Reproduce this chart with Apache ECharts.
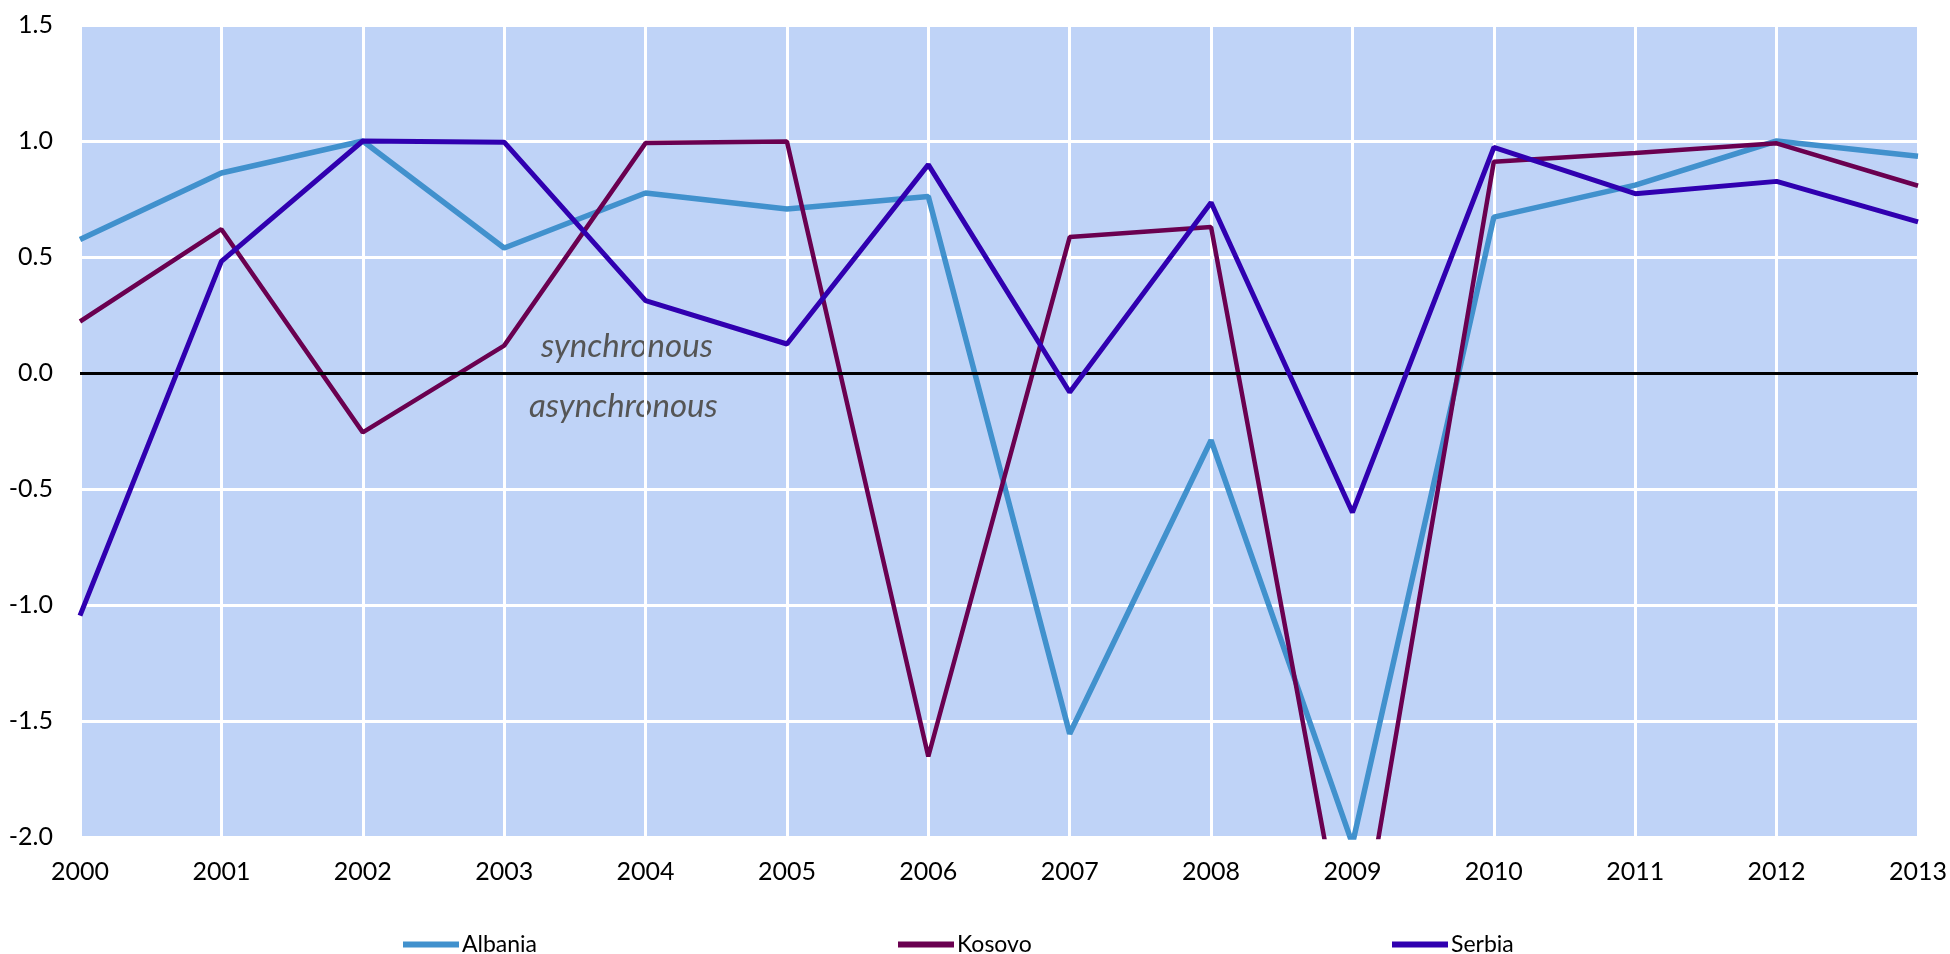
<!DOCTYPE html>
<html><head><meta charset="utf-8">
<script src="https://cdn.jsdelivr.net/npm/echarts@6/dist/echarts.min.js"></script>
<style>html,body{margin:0;padding:0;background:#fff;}#c{width:1950px;height:954px;}</style>
</head><body><div id="c"></div>
<script>
const years = ['2000','2001','2002','2003','2004','2005','2006','2007','2008','2009','2010','2011','2012','2013'];
const albania = [0.575, 0.862, 1.0, 0.539, 0.776, 0.707, 0.761, -1.555, -0.29, -2.03, 0.672, 0.81, 1.0, 0.934];
const kosovo  = [0.222, 0.62, -0.256, 0.118, 0.991, 0.998, -1.653, 0.586, 0.629, -2.66, 0.911, 0.948, 0.99, 0.807];
const serbia  = [-1.046, 0.481, 1.0, 0.995, 0.312, 0.125, 0.898, -0.083, 0.735, -0.601, 0.972, 0.773, 0.826, 0.651];
const names = ['Albania','Kosovo','Serbia'];
const colors = ['#4191CD','#6A0050','#3000B0'];
const widths = [5.5, 4.5, 5];
const FONT = 'Lato';

const chart = echarts.init(document.getElementById('c'), null, {renderer:'canvas'});
const seriesData = [albania, kosovo, serbia];
const legendLeft = [398, 893, 1387];
chart.setOption({
  animation: false,
  textStyle: {fontFamily: FONT},
  grid: {left: 80, right: 30, top: 25, bottom: 117, show: true, backgroundColor: '#BFD3F7', borderWidth: 0},
  legend: names.map((n, i) => ({
    data: [n], left: legendLeft[i], top: 928, itemWidth: 56, itemHeight: 6, itemGap: 4,
    icon: 'rect',
    textStyle: {fontFamily: FONT, fontSize: 23, color: '#000', padding: [0,0,0,-2]}
  })),
  xAxis: {
    type: 'category', data: years, boundaryGap: false,
    axisLine: {show: false}, axisTick: {show: false},
    axisLabel: {fontFamily: FONT, fontSize: 25, color: '#000', margin: 22},
    splitLine: {show: true, lineStyle: {color: '#fff', width: 3}}
  },
  yAxis: {
    type: 'value', min: -2, max: 1.5, interval: 0.5,
    axisLine: {show: false}, axisTick: {show: false},
    axisLabel: {fontFamily: FONT, fontSize: 25, color: '#000', margin: 27, formatter: v => v.toFixed(1)},
    splitLine: {show: true, lineStyle: {color: '#fff', width: 3}}
  },
  graphic: [
    {type: 'text', left: 541, top: 330, style: {text: 'synchronous', font: 'italic 33px Lato', fill: '#555'}},
    {type: 'text', left: 529, top: 390, style: {text: 'asynchronous', font: 'italic 33px Lato', fill: '#555'}}
  ],
  series: names.map((n, i) => ({
    name: n, type: 'line', data: seriesData[i], showSymbol: false, symbol: 'none',
    clip: true,
    lineStyle: {color: colors[i], width: widths[i]}, itemStyle: {color: colors[i]},
    z: 3 + i,
    markLine: i === 0 ? {
      silent: true, symbol: 'none', label: {show: false},
      lineStyle: {color: '#000', width: 3, type: 'solid'},
      data: [{yAxis: 0}]
    } : undefined
  }))
});
</script></body></html>
